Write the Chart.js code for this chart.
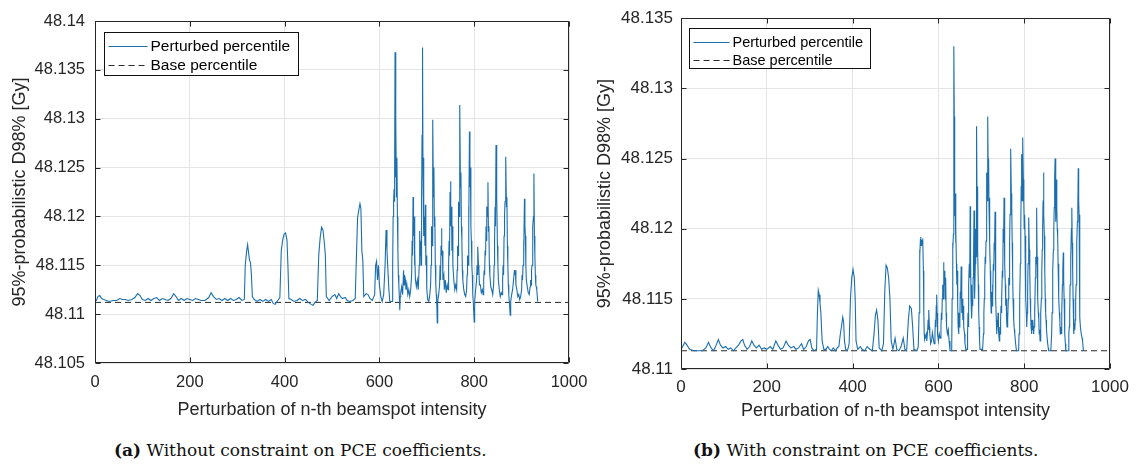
<!DOCTYPE html>
<html>
<head>
<meta charset="utf-8">
<script src="https://cdn.jsdelivr.net/npm/chart.js@4.4.1/dist/chart.umd.min.js"></script>
<style>
  html, body { margin: 0; padding: 0; background: #fff; }
  body { width: 1140px; height: 466px; position: relative; overflow: hidden; }
  canvas { position: absolute; top: 0; }
  #cL { left: 0; }
  #cR { left: 580px; }
  .cap { position: absolute; top: 439px; line-height: 22px; font-family: "DejaVu Serif", serif; font-size: 17px; color: #111; white-space: nowrap; }
  .cap b { font-weight: bold; }
</style>
</head>
<body>
<canvas id="cL" width="600" height="425"></canvas>
<canvas id="cR" width="560" height="425"></canvas>
<div class="cap" id="capL" style="left:114px"><b>(a)</b> Without constraint on PCE coefficients.</div>
<div class="cap" id="capR" style="left:693px"><b>(b)</b> With constraint on PCE coefficients.</div>
<script>
// ---------------- data ----------------
const xTickLabels = ['0', '200', '400', '600', '800', '1000'];
const seriesLabels = ['Perturbed percentile', 'Base percentile'];
const baseX = [0, 1000];
const baseLeft = [48.1112, 48.1112];
const baseRight = [48.1113, 48.1113];

// (a) perturbed percentile: [beamspot index, value]
const leftPoints = [
[0,48.1114],[3,48.1114],[6,48.1118],[10,48.1119],[14,48.1116],[18,48.1115],[24,48.1114],[30,48.1113],[38,48.1114],[46,48.1114],
[52,48.1116],[58,48.1115],[64,48.1115],[70,48.1114],[78,48.1115],[84,48.1117],[90,48.1121],[95,48.1119],[100,48.1115],[106,48.1114],
[112,48.1116],[118,48.1114],[124,48.1116],[130,48.1117],[136,48.1114],[142,48.1116],[148,48.1115],[154,48.1114],[160,48.1116],[166,48.1121],
[171,48.1118],[176,48.1114],[182,48.1116],[188,48.1114],[194,48.1116],[200,48.1115],[206,48.1114],[212,48.1116],[218,48.1115],[224,48.1114],
[232,48.1114],[240,48.1117],[245,48.1122],[250,48.1118],[256,48.1115],[262,48.1116],[268,48.1114],[274,48.1116],[280,48.1114],[286,48.1116],
[292,48.1114],[298,48.1115],[304,48.1117],[310,48.1114],[315,48.1115],[317,48.1150],[320,48.1165],[322,48.1171],[324,48.1163],[326,48.1155],
[328,48.1153],[330,48.1140],[332,48.1118],[336,48.1115],[342,48.1113],[348,48.1115],[354,48.1113],[360,48.1115],[366,48.1113],[372,48.1115],
[376,48.1111],[380,48.1110],[384,48.1113],[390,48.1117],[393,48.1165],[396,48.1176],[399,48.1182],[402,48.1183],[405,48.1176],[407,48.1150],
[409,48.1116],[414,48.1115],[420,48.1113],[426,48.1114],[432,48.1116],[438,48.1114],[444,48.1115],[450,48.1112],[456,48.1110],[460,48.1109],
[464,48.1112],[469,48.1114],[472,48.1160],[475,48.1178],[478,48.1189],[481,48.1186],[484,48.1172],[486,48.1160],[488,48.1118],[494,48.1114],
[500,48.1118],[506,48.1120],[510,48.1116],[514,48.1121],[518,48.1118],[522,48.1116],[528,48.1117],[532,48.1114],[538,48.1113],[544,48.1114],
[549,48.1116],[551,48.1150],[554,48.1199],[556,48.1205],[559,48.1213],[561,48.1208],[563,48.1165],[565,48.1155],[567,48.1118],[572,48.1121],
[576,48.1120],[580,48.1116],[585,48.1114],[590,48.1120],[592,48.1150],[594,48.1154],[596,48.1135],[598,48.1150],[600,48.1130],[603,48.1118],
[606,48.1113],[609,48.1120],[612,48.1150],[614,48.1186],[616,48.1165],[618,48.1145],[620,48.1125],[622,48.1113],
[627,48.1113],[628,48.1150],[629,48.1200],[630,48.1215],[631,48.1228],[632,48.1215],[633,48.1368],[634,48.1240],[635,48.1300],[636,48.1220],
[637,48.1260],[638,48.1200],[639,48.1165],[640,48.1140],[641,48.1130],[642,48.1118],[643,48.1104],[644,48.1118],[645,48.1122],[647,48.1128],
[649,48.1120],[651,48.1145],[652,48.1130],[653,48.1140],[655,48.1135],[656,48.1125],[658,48.1130],[660,48.1120],[662,48.1125],[664,48.1118],
[666,48.1125],[668,48.1140],[669,48.1175],[670,48.1160],[671,48.1220],[672,48.1180],[673,48.1200],[674,48.1150],[675,48.1165],[676,48.1135],
[678,48.1128],[680,48.1135],[682,48.1125],[684,48.1150],[685,48.1185],[686,48.1160],[687,48.1175],[688,48.1150],[689,48.1220],[690,48.1283],
[691,48.1373],[692,48.1240],[693,48.1260],[694,48.1180],[695,48.1200],[696,48.1170],[697,48.1212],[698,48.1150],[699,48.1160],[700,48.1125],
[702,48.1115],[704,48.1113],[706,48.1118],[708,48.1130],[709,48.1150],[710,48.1190],[711,48.1170],[712,48.1230],[713,48.1299],[714,48.1220],
[715,48.1250],[716,48.1190],[717,48.1200],[718,48.1150],[719,48.1130],[720,48.1120],[721,48.1113],[722,48.1091],[723,48.1113],[725,48.1120],
[727,48.1130],[728,48.1150],[729,48.1135],[730,48.1170],[731,48.1188],[732,48.1160],[733,48.1165],[734,48.1135],[736,48.1140],[737,48.1125],
[739,48.1135],[741,48.1122],[743,48.1130],[745,48.1125],[746,48.1150],[747,48.1175],[748,48.1160],[749,48.1225],[750,48.1236],[751,48.1190],
[752,48.1210],[753,48.1165],[754,48.1190],[755,48.1150],[757,48.1135],[759,48.1125],[761,48.1130],[763,48.1125],[764,48.1145],[765,48.1170],
[766,48.1160],[767,48.1215],[768,48.1200],[769,48.1260],[770,48.1314],[771,48.1230],[772,48.1245],[773,48.1190],[774,48.1175],[775,48.1145],
[776,48.1135],[778,48.1125],[780,48.1120],[782,48.1118],[784,48.1125],[785,48.1140],[786,48.1160],[787,48.1150],[788,48.1210],[789,48.1190],
[790,48.1287],[791,48.1230],[792,48.1250],[793,48.1190],[794,48.1175],[795,48.1150],[796,48.1140],[797,48.1120],[798,48.1113],[800,48.1092],
[801,48.1113],[803,48.1125],[805,48.1135],[806,48.1150],[807,48.1140],[808,48.1169],[809,48.1150],[810,48.1145],[811,48.1130],[813,48.1130],
[815,48.1122],[817,48.1125],[819,48.1120],[820,48.1135],[821,48.1145],[822,48.1140],[823,48.1165],[824,48.1160],[825,48.1190],[826,48.1175],
[827,48.1210],[828,48.1200],[829,48.1235],[830,48.1185],[831,48.1190],[832,48.1150],[833,48.1140],[835,48.1128],[837,48.1125],[839,48.1120],
[841,48.1130],[842,48.1150],[843,48.1175],[844,48.1210],[845,48.1190],[846,48.1273],[847,48.1230],[848,48.1220],[849,48.1170],[850,48.1150],
[851,48.1135],[853,48.1125],[855,48.1118],[857,48.1122],[859,48.1120],[860,48.1135],[861,48.1150],[862,48.1140],[863,48.1180],[864,48.1200],
[865,48.1215],[866,48.1240],[867,48.1261],[868,48.1210],[869,48.1220],[870,48.1170],[871,48.1150],[872,48.1130],[873,48.1120],[874,48.1113],
[876,48.1099],[877,48.1113],[879,48.1120],[881,48.1125],[883,48.1135],[885,48.1145],[886,48.1140],[887,48.1145],[888,48.1130],[890,48.1125],
[892,48.1118],[894,48.1120],[896,48.1115],[898,48.1118],[900,48.1125],[901,48.1140],[902,48.1135],[903,48.1150],[904,48.1175],[905,48.1160],
[906,48.1218],[907,48.1190],[908,48.1180],[909,48.1150],[910,48.1135],[912,48.1128],[914,48.1122],[916,48.1120],[918,48.1128],[919,48.1135],
[920,48.1130],[921,48.1145],[922,48.1150],[923,48.1165],[924,48.1190],[925,48.1200],[926,48.1244],[927,48.1180],[928,48.1160],[929,48.1140],
[930,48.1130],[931,48.1128],[932,48.1125],[934,48.1113]
];

// (b) perturbed percentile: [beamspot index, value]
const rightPoints = [
[0,48.1114],[4,48.1116],[9,48.1119],[14,48.1117],[20,48.1114],[30,48.1113],[40,48.1113],[50,48.1113],[58,48.1115],[64,48.1119],
[70,48.1115],[76,48.1113],[82,48.1117],[87,48.1121],[92,48.1117],[98,48.1115],[104,48.1116],[110,48.1114],[116,48.1115],[122,48.1113],
[128,48.1115],[134,48.1117],[140,48.1120],[144,48.1121],[148,48.1117],[154,48.1114],[160,48.1116],[165,48.1120],[170,48.1117],[176,48.1115],
[182,48.1117],[188,48.1114],[194,48.1115],[200,48.1114],[208,48.1116],[214,48.1114],[221,48.1120],[226,48.1117],[232,48.1114],[238,48.1115],
[245,48.1120],[250,48.1117],[256,48.1115],[263,48.1116],[268,48.1114],[274,48.1115],[281,48.1118],[286,48.1114],[292,48.1116],[297,48.1120],
[301,48.1121],[305,48.1115],[310,48.1113],[316,48.1114],[318,48.1140],[320,48.1156],[322,48.1153],[324,48.1147],[326,48.1140],[329,48.1120],
[333,48.1114],[338,48.1114],[342,48.1116],[346,48.1114],[350,48.1113],[355,48.1115],[360,48.1113],[364,48.1115],[368,48.1116],[371,48.1124],
[374,48.1130],[377,48.1137],[379,48.1134],[381,48.1120],[384,48.1114],[388,48.1113],[392,48.1118],[395,48.1150],[398,48.1165],[401,48.1171],
[404,48.1165],[406,48.1150],[408,48.1120],[412,48.1114],[418,48.1116],[422,48.1114],[428,48.1113],[434,48.1116],[440,48.1114],[446,48.1113],
[450,48.1125],[453,48.1138],[456,48.1142],[459,48.1135],[462,48.1115],[468,48.1113],[472,48.1118],[475,48.1155],[478,48.1174],[481,48.1172],
[484,48.1165],[487,48.1150],[490,48.1120],[494,48.1114],[499,48.1122],[503,48.1114],[508,48.1113],[513,48.1116],[518,48.1122],[522,48.1114],
[526,48.1113],[530,48.1135],[533,48.1145],[537,48.1143],[540,48.1130],[543,48.1114],
[550,48.1113],[553,48.1116],[555,48.1140],[556,48.1185],[557,48.1180],[558,48.1192],[559,48.1194],[560,48.1188],[561,48.1192],[562,48.1190],
[563,48.1193],[564,48.1193],[565,48.1170],[566,48.1140],[567,48.1125],[568,48.1121],[570,48.1123],[572,48.1125],[573,48.1120],[575,48.1128],
[576,48.1135],[577,48.1128],[578,48.1142],[579,48.1130],[580,48.1125],[582,48.1118],[584,48.1120],[586,48.1126],[588,48.1122],[590,48.1118],
[592,48.1125],[593,48.1135],[594,48.1130],[595,48.1145],[596,48.1153],[597,48.1140],[598,48.1125],[600,48.1120],[602,48.1125],[604,48.1122],
[606,48.1130],[607,48.1140],[608,48.1135],[609,48.1150],[610,48.1160],[611,48.1150],[612,48.1176],[613,48.1165],[614,48.1160],[615,48.1170],
[616,48.1150],[617,48.1165],[618,48.1140],[619,48.1130],[621,48.1125],[623,48.1128],[625,48.1120],[627,48.1113],[631,48.1113],[632,48.1150],
[633,48.1190],[634,48.1185],[635,48.1196],[636,48.1330],[637,48.1280],[638,48.1209],[639,48.1225],[640,48.1190],[641,48.1200],[642,48.1175],
[643,48.1160],[644,48.1170],[645,48.1145],[646,48.1130],[647,48.1125],[648,48.1140],[649,48.1130],[650,48.1135],[651,48.1155],[652,48.1150],
[653,48.1173],[654,48.1155],[655,48.1140],[656,48.1150],[657,48.1135],[658,48.1145],[659,48.1130],[661,48.1125],[662,48.1118],[664,48.1114],
[667,48.1114],[668,48.1125],[669,48.1140],[670,48.1130],[671,48.1160],[672,48.1175],[673,48.1165],[674,48.1216],[675,48.1180],[676,48.1150],
[677,48.1160],[678,48.1136],[679,48.1150],[680,48.1145],[681,48.1165],[682,48.1180],[683,48.1213],[684,48.1170],[685,48.1150],[686,48.1175],
[687,48.1200],[688,48.1180],[689,48.1273],[690,48.1220],[691,48.1230],[692,48.1185],[693,48.1160],[694,48.1140],[695,48.1130],[696,48.1120],
[697,48.1114],[703,48.1114],[705,48.1125],[706,48.1140],[707,48.1150],[708,48.1165],[709,48.1180],[710,48.1175],[711,48.1191],[712,48.1210],
[713,48.1240],[714,48.1220],[715,48.1280],[716,48.1240],[717,48.1250],[718,48.1215],[719,48.1222],[720,48.1190],[721,48.1170],[722,48.1150],
[723,48.1140],[724,48.1155],[725,48.1145],[726,48.1160],[727,48.1150],[728,48.1175],[729,48.1170],[730,48.1190],[731,48.1185],[732,48.1212],
[733,48.1170],[734,48.1150],[735,48.1135],[736,48.1125],[737,48.1135],[738,48.1130],[739,48.1140],[740,48.1128],[742,48.1120],[743,48.1130],
[744,48.1125],[745,48.1135],[746,48.1145],[747,48.1140],[748,48.1150],[749,48.1170],[750,48.1165],[751,48.1200],[752,48.1190],[753,48.1222],
[754,48.1190],[755,48.1175],[756,48.1160],[757,48.1145],[758,48.1150],[759,48.1135],[760,48.1130],[761,48.1140],[762,48.1135],[763,48.1150],
[764,48.1165],[765,48.1160],[766,48.1190],[767,48.1210],[768,48.1240],[769,48.1257],[770,48.1225],[771,48.1215],[772,48.1190],[773,48.1170],
[774,48.1150],[775,48.1140],[776,48.1135],[777,48.1128],[778,48.1125],[780,48.1118],[782,48.1113],[787,48.1113],[788,48.1125],[789,48.1140],
[790,48.1150],[791,48.1175],[792,48.1200],[793,48.1230],[794,48.1253],[795,48.1220],[796,48.1230],[797,48.1265],[798,48.1235],[799,48.1220],
[800,48.1200],[801,48.1210],[802,48.1195],[803,48.1165],[804,48.1150],[805,48.1140],[806,48.1130],[807,48.1140],[808,48.1155],[809,48.1175],
[810,48.1190],[811,48.1208],[812,48.1185],[813,48.1170],[814,48.1150],[815,48.1140],[816,48.1130],[817,48.1125],[818,48.1135],[819,48.1128],
[820,48.1135],[822,48.1125],[823,48.1130],[824,48.1145],[825,48.1140],[826,48.1165],[827,48.1180],[828,48.1175],[829,48.1215],[830,48.1180],
[831,48.1160],[832,48.1150],[833,48.1140],[834,48.1135],[835,48.1125],[836,48.1128],[837,48.1120],[838,48.1130],[839,48.1140],[840,48.1150],
[841,48.1170],[842,48.1185],[843,48.1200],[844,48.1220],[845,48.1240],[846,48.1210],[847,48.1195],[848,48.1170],[849,48.1150],[850,48.1140],
[851,48.1135],[852,48.1128],[854,48.1120],[856,48.1115],[857,48.1113],[862,48.1113],[864,48.1125],[865,48.1140],[866,48.1150],[867,48.1170],
[868,48.1185],[869,48.1200],[870,48.1215],[871,48.1235],[872,48.1250],[873,48.1220],[874,48.1205],[875,48.1235],[876,48.1215],[877,48.1200],
[878,48.1195],[879,48.1175],[880,48.1160],[881,48.1150],[882,48.1140],[883,48.1135],[884,48.1125],[885,48.1130],[886,48.1128],[887,48.1125],
[888,48.1140],[889,48.1160],[890,48.1170],[891,48.1183],[892,48.1165],[893,48.1150],[894,48.1135],[895,48.1125],[896,48.1118],[897,48.1113],
[903,48.1113],[904,48.1125],[905,48.1130],[906,48.1140],[907,48.1160],[908,48.1170],[909,48.1180],[910,48.1200],[911,48.1215],[912,48.1190],
[913,48.1170],[914,48.1150],[915,48.1135],[916,48.1125],[917,48.1130],[918,48.1128],[919,48.1135],[920,48.1150],[921,48.1160],[922,48.1170],
[923,48.1190],[924,48.1205],[925,48.1215],[926,48.1243],[927,48.1220],[928,48.1210],[929,48.1180],[930,48.1137],[931,48.1130],[933,48.1125],
[935,48.1122],[936,48.1120],[938,48.1113]
];

const leftYRange = [48.105, 48.14];
const rightYRange = [48.11, 48.135];
const yStep = 0.005;
const xRange = [0, 1000];
const xStep = 200;

// ---------------- styling ----------------
const LINE_COLOR = '#1b6fae';
const BASE_COLOR = '#2a2a2a';
const TEXT_COLOR = '#262626';
const GRID_COLOR = '#e4e4e4';
const FONT = '"Liberation Sans", Arial, sans-serif';

function toXY(pairs) { return pairs.map(p => ({ x: p[0], y: p[1] })); }
function baseXY(ys) { return baseX.map((x, i) => ({ x: x, y: ys[i] })); }

const framePlugin = {
  id: 'frame',
  afterDatasetsDraw(chart, args, opts) {
    const { ctx, chartArea: a, scales } = chart;
    const xs = scales.x, ys = scales.y;
    ctx.save();
    ctx.strokeStyle = TEXT_COLOR;
    ctx.lineWidth = 1;
    const L = Math.round(a.left) + 0.5, R = Math.round(a.right) - 0.5;
    const T = Math.round(a.top) + 0.5, B = Math.round(a.bottom) - 0.5;
    ctx.beginPath();
    ctx.rect(L, T, R - L, B - T);
    const tl = 5;
    xs.ticks.forEach(t => {
      const p = Math.round(xs.getPixelForValue(t.value)) + 0.5;
      ctx.moveTo(p, B); ctx.lineTo(p, B - tl);
      ctx.moveTo(p, T); ctx.lineTo(p, T + tl);
    });
    ys.ticks.forEach(t => {
      const p = Math.round(ys.getPixelForValue(t.value)) + 0.5;
      ctx.moveTo(L, p); ctx.lineTo(L + tl, p);
      ctx.moveTo(R, p); ctx.lineTo(R - tl, p);
    });
    ctx.stroke();

    // legend box (MATLAB style, inside the axes)
    const lg = opts;
    const bx = Math.round(a.left + lg.dx) + 0.5, by = Math.round(a.top + lg.dy) + 0.5;
    ctx.fillStyle = '#fff';
    ctx.fillRect(bx, by, lg.w, lg.h);
    ctx.strokeStyle = '#111';
    ctx.strokeRect(bx, by, lg.w, lg.h);
    ctx.font = lg.fontSize + 'px ' + FONT;
    ctx.textBaseline = 'middle';
    ctx.fillStyle = '#000';
    chart.data.datasets.forEach((ds, i) => {
      const yy = by + lg.row0 + i * lg.rowGap;
      ctx.beginPath();
      ctx.strokeStyle = ds.borderColor;
      ctx.lineWidth = 1.2;
      ctx.setLineDash(ds.borderDash || []);
      ctx.moveTo(bx + lg.s0, Math.round(yy) + 0.5);
      ctx.lineTo(bx + lg.s1, Math.round(yy) + 0.5);
      ctx.stroke();
      ctx.setLineDash([]);
      ctx.fillText(ds.label, bx + lg.tx, yy + 1);
    });
    ctx.restore();
  }
};

function makeChart(id, perturbed, baseY, yRange, geom) {
  const ctx = document.getElementById(id).getContext('2d');
  return new Chart(ctx, {
    type: 'line',
    data: {
      datasets: [
        { label: seriesLabels[0], data: toXY(perturbed), borderColor: LINE_COLOR, borderWidth: 1.1, pointRadius: 0, tension: 0, order: 1 },
        { label: seriesLabels[1], data: baseXY(baseY), borderColor: BASE_COLOR, borderWidth: 1, borderDash: [6, 4], pointRadius: 0, tension: 0, order: 2 }
      ]
    },
    options: {
      responsive: false,
      animation: false,
      devicePixelRatio: 1,
      events: [],
      layout: { padding: { top: geom.top, right: geom.right, left: 0, bottom: 0 } },
      plugins: {
        legend: { display: false },
        tooltip: { enabled: false },
        frame: geom.legend
      },
      scales: {
        x: {
          type: 'linear', min: xRange[0], max: xRange[1],
          grid: { color: GRID_COLOR, drawTicks: false },
          border: { display: false },
          ticks: { stepSize: xStep, padding: geom.xTickPad, color: TEXT_COLOR, font: { family: FONT, size: geom.tickSize },
                   callback: (v) => xTickLabels[Math.round(v / xStep)] ?? '', maxRotation: 0 },
          title: { display: true, text: 'Perturbation of n-th beamspot intensity', color: TEXT_COLOR,
                   font: { family: FONT, size: geom.titleSize }, padding: { top: 0, bottom: geom.xTitlePad } },
          afterFit: (s) => { s.height = geom.xAxisH; }
        },
        y: {
          min: yRange[0], max: yRange[1],
          grid: { color: GRID_COLOR, drawTicks: false },
          border: { display: false },
          ticks: { stepSize: yStep, padding: geom.yTickPad, color: TEXT_COLOR, font: { family: FONT, size: geom.tickSize },
                   callback: (v) => String(parseFloat(v.toFixed(3))) },
          title: { display: true, text: '95%-probabilistic D98% [Gy]', color: TEXT_COLOR,
                   font: { family: FONT, size: geom.titleSize }, padding: { top: geom.yTitlePad, bottom: 0 } },
          afterFit: (s) => { s.width = geom.yAxisW; }
        }
      }
    },
    plugins: [framePlugin]
  });
}

makeChart('cL', leftPoints, baseLeft, leftYRange, {
  top: 21, right: 31, xAxisH: 62, yAxisW: 95,
  tickSize: 16.5, titleSize: 18, xTickPad: 10, yTickPad: 10, xTitlePad: 4, yTitlePad: 9,
  legend: { dx: 9, dy: 11, w: 194, h: 43, row0: 13, rowGap: 19, s0: 4, s1: 43, tx: 46, fontSize: 15.5 }
});
makeChart('cR', rightPoints, baseRight, rightYRange, {
  top: 9, right: 30, xAxisH: 56, yAxisW: 101,
  tickSize: 17, titleSize: 18, xTickPad: 8, yTickPad: 8, xTitlePad: 3, yTitlePad: 14,
  legend: { dx: 8, dy: 10, w: 181, h: 40, row0: 13, rowGap: 18, s0: 4, s1: 40, tx: 43, fontSize: 14.5 }
});
</script>
</body>
</html>
